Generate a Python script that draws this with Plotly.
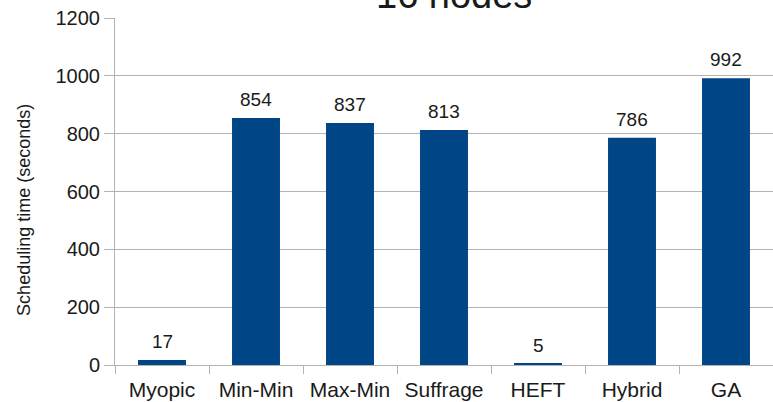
import plotly.graph_objects as go

# Scheduling time per heuristic (16 nodes)
heuristics = ["Myopic", "Min-Min", "Max-Min", "Suffrage", "HEFT", "Hybrid", "GA"]
sched_time = [17, 854, 837, 813, 5, 786, 992]
y_ticks = [0, 200, 400, 600, 800, 1000, 1200]

BAR = "#004586"
AXIS = "#b3b3b3"
TXT = "#1a1a1a"
FONT = "Liberation Sans, Arial, sans-serif"

fig = go.Figure(
    go.Bar(
        x=heuristics,
        y=sched_time,
        marker=dict(color=BAR, line=dict(width=0)),
        width=0.51,
        hoverinfo="x+y",
    )
)

fig.update_layout(
    width=773,
    height=402,
    margin=dict(l=115, r=0, t=18, b=37),
    paper_bgcolor="white",
    plot_bgcolor="white",
    font=dict(family=FONT, color=TXT),
    showlegend=False,
)

# value labels above each bar
for name, val in zip(heuristics, sched_time):
    fig.add_annotation(
        x=name, y=val, xref="x", yref="y",
        text=str(val),
        xanchor="center", yanchor="bottom",
        yshift=6,
        showarrow=False,
        font=dict(family=FONT, size=19, color=TXT),
    )

# chart title (sits above the plot area)
fig.add_annotation(
    text="16 nodes",
    xref="paper", yref="paper",
    x=0.515, y=1.0,
    xanchor="center", yanchor="bottom",
    yshift=0,
    showarrow=False,
    font=dict(family=FONT, size=38, color=TXT),
)

# y-axis title
fig.add_annotation(
    text="Scheduling time (seconds)",
    xref="paper", yref="paper",
    x=0, y=0.447,
    xanchor="center", yanchor="middle",
    xshift=-91,
    textangle=-90,
    showarrow=False,
    font=dict(family=FONT, size=18, color=TXT),
)

fig.update_xaxes(
    showgrid=False,
    showline=True,
    linecolor=AXIS,
    linewidth=1,
    ticks="outside",
    tickson="boundaries",
    ticklen=8,
    tickcolor=AXIS,
    ticklabelstandoff=6,
    tickfont=dict(family=FONT, size=21, color=TXT),
    range=[-0.5, 6.5],
)

fig.update_yaxes(
    range=[0, 1200],
    tickvals=y_ticks,
    showgrid=True,
    gridcolor=AXIS,
    gridwidth=1,
    zeroline=False,
    showline=True,
    linecolor=AXIS,
    ticks="outside",
    ticklen=10,
    tickcolor=AXIS,
    tickfont=dict(family=FONT, size=20, color=TXT),
)

fig.write_html("out.html")
